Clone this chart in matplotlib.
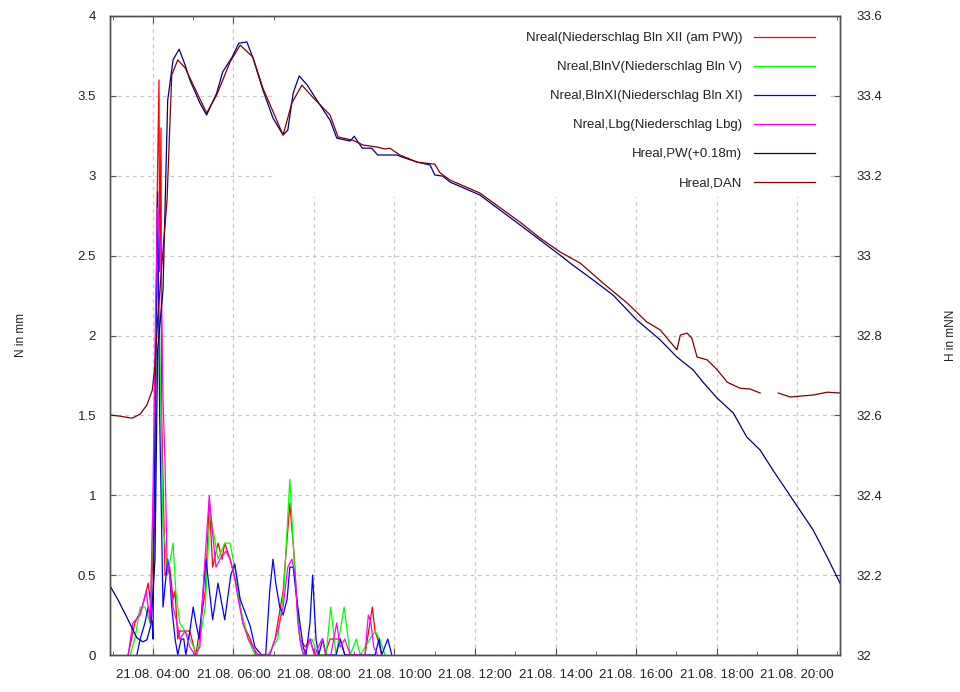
import numpy as np
import pandas as pd
import matplotlib
matplotlib.use("Agg")
import matplotlib.pyplot as plt
import matplotlib.dates as mdates
from matplotlib.patches import Rectangle
from matplotlib.ticker import MultipleLocator, FormatStrFormatter

plt.rcParams['font.family'] = ['Liberation Sans', 'DejaVu Sans']

DAY = "2011-08-21 "

# precipitation (mm), one list of times per gauge
n_xii_t = ["03:23", "03:33", "03:44", "03:53", "03:57", "04:03", "04:06", "04:09", "04:10", "04:12",
           "04:13", "04:18", "04:25", "04:30", "04:33", "04:37", "04:40", "04:55", "05:04", "05:18",
           "05:24", "05:29", "05:37", "05:43", "05:47", "05:55", "06:07", "06:14", "06:25", "06:34",
           "06:54", "07:02", "07:14", "07:24", "07:30", "07:35", "07:39", "07:47", "07:54", "08:01",
           "08:16", "08:24", "08:39", "08:46", "09:16", "09:27", "09:31", "09:35", "09:41"]
n_xii = [0.0, 0.2, 0.3, 0.45, 0.3, 1.0, 2.8, 3.6, 2.4, 3.3,
         1.5, 0.5, 0.55, 0.35, 0.4, 0.1, 0.15, 0.15, 0.0, 0.4,
         0.95, 0.55, 0.7, 0.6, 0.7, 0.6, 0.4, 0.2, 0.1, 0.0,
         0.0, 0.1, 0.4, 0.95, 0.65, 0.3, 0.1, 0.05, 0.1, 0.0,
         0.0, 0.1, 0.1, 0.0, 0.0, 0.3, 0.15, 0.1, 0.0]

n_v_t = ["03:26", "03:33", "03:41", "03:48", "03:56", "04:03", "04:07", "04:10", "04:15", "04:18",
         "04:22", "04:30", "04:34", "04:40", "04:48", "04:55", "05:06", "05:18", "05:25", "05:31",
         "05:37", "05:47", "05:55", "06:04", "06:10", "06:22", "06:32", "06:51", "07:06", "07:15",
         "07:24", "07:29", "07:33", "07:39", "07:44", "07:57", "08:06", "08:18", "08:25", "08:33",
         "08:45", "08:54", "09:03", "09:09", "09:31", "09:38", "09:46"]
n_v = [0.0, 0.1, 0.3, 0.3, 0.2, 1.4, 2.4, 2.0, 0.8, 0.7,
       0.5, 0.7, 0.4, 0.2, 0.15, 0.1, 0.0, 0.3, 0.9, 0.75,
       0.6, 0.7, 0.7, 0.5, 0.3, 0.1, 0.0, 0.0, 0.1, 0.4,
       1.1, 0.7, 0.4, 0.1, 0.0, 0.1, 0.0, 0.0, 0.3, 0.0,
       0.3, 0.0, 0.1, 0.0, 0.15, 0.1, 0.0]

n_xi_t = ["03:36", "03:41", "03:48", "03:53", "03:59", "04:00", "04:04", "04:07", "04:10", "04:15",
          "04:22", "04:25", "04:28", "04:33", "04:37", "04:42", "04:46", "04:49", "04:55", "05:00",
          "05:04", "05:09", "05:13", "05:19", "05:29", "05:37", "05:47", "05:56", "06:02", "06:10",
          "06:25", "06:32", "06:42", "06:48", "06:54", "06:59", "07:03", "07:09", "07:14", "07:20",
          "07:24", "07:29", "07:33", "07:39", "07:44", "07:48", "07:54", "07:58", "08:03", "08:07",
          "08:13", "08:18", "08:33", "08:39", "08:46", "09:31", "09:37", "09:41", "09:50", "09:56"]
n_xi = [0.0, 0.1, 0.2, 0.3, 0.2, 0.1, 1.8, 2.9, 1.5, 0.3,
        0.6, 0.5, 0.3, 0.1, 0.0, 0.1, 0.1, 0.0, 0.15, 0.3,
        0.2, 0.1, 0.3, 0.6, 0.22, 0.45, 0.22, 0.5, 0.57, 0.35,
        0.18, 0.05, 0.0, 0.0, 0.4, 0.6, 0.45, 0.3, 0.25, 0.35,
        0.55, 0.55, 0.4, 0.2, 0.05, 0.0, 0.2, 0.5, 0.1, 0.0,
        0.1, 0.0, 0.0, 0.1, 0.0, 0.0, 0.1, 0.0, 0.1, 0.0]

n_lbg_t = ["03:23", "03:30", "03:41", "03:50", "03:56", "04:00", "04:04", "04:07", "04:12", "04:15",
           "04:18", "04:21", "04:25", "04:30", "04:36", "04:40", "04:48", "04:55", "05:03", "05:10",
           "05:16", "05:24", "05:28", "05:34", "05:40", "05:49", "05:55", "06:01", "06:07", "06:14",
           "06:22", "06:29", "06:37", "06:54", "07:06", "07:14", "07:21", "07:27", "07:32", "07:36",
           "07:41", "07:45", "07:54", "08:01", "08:12", "08:18", "08:25", "08:34", "08:39", "08:46",
           "08:54", "09:16", "09:21", "09:25", "09:29", "09:35"]
n_lbg = [0.0, 0.2, 0.25, 0.4, 0.2, 1.0, 2.2, 2.8, 2.5, 1.6,
         1.2, 0.6, 0.5, 0.3, 0.2, 0.1, 0.15, 0.05, 0.0, 0.05,
         0.5, 1.0, 0.8, 0.55, 0.6, 0.65, 0.6, 0.5, 0.35, 0.2,
         0.1, 0.05, 0.0, 0.0, 0.15, 0.3, 0.55, 0.6, 0.5, 0.2,
         0.05, 0.0, 0.1, 0.0, 0.1, 0.0, 0.0, 0.2, 0.05, 0.1,
         0.0, 0.0, 0.25, 0.2, 0.05, 0.0]

# water levels (m above NN)
h_pw_t = ["02:56", "03:08", "03:23", "03:36", "03:45", "03:51", "03:57", "04:03", "04:07", "04:15",
          "04:22", "04:30", "04:39", "04:48", "04:55", "05:10", "05:20", "05:35", "05:44", "05:58",
          "06:08", "06:20", "06:29", "06:44", "06:59", "07:14", "07:21", "07:29", "07:38", "07:50",
          "08:04", "08:24", "08:34", "08:54", "09:00", "09:12", "09:26", "09:35", "10:04", "10:11",
          "10:34", "10:53", "11:00", "11:12", "11:23", "12:07", "13:07", "13:37", "14:07", "14:22",
          "14:56", "15:26", "16:01", "16:36", "17:01", "17:25", "17:40", "18:01", "18:25", "18:45",
          "19:05", "19:24", "19:54", "20:24", "20:45", "21:04"]
h_pw = [32.173, 32.138, 32.088, 32.043, 32.033, 32.038, 32.075, 32.238, 32.764, 32.914,
        33.389, 33.490, 33.517, 33.477, 33.440, 33.382, 33.352, 33.407, 33.460, 33.497,
        33.532, 33.535, 33.495, 33.414, 33.344, 33.302, 33.314, 33.407, 33.450, 33.427,
        33.390, 33.339, 33.294, 33.287, 33.299, 33.269, 33.269, 33.252, 33.252, 33.247,
        33.234, 33.227, 33.202, 33.199, 33.184, 33.152, 33.077, 33.039, 33.001, 32.981,
        32.939, 32.901, 32.839, 32.789, 32.746, 32.714, 32.683, 32.643, 32.606, 32.546,
        32.513, 32.463, 32.388, 32.313, 32.245, 32.180]

h_dan_t = ["02:56", "03:11", "03:29", "03:41", "03:51", "03:59", "04:03", "04:07", "04:15", "04:21",
           "04:28", "04:37", "04:48", "05:20", "05:35", "05:55", "06:10", "06:29", "06:44", "07:14",
           "07:27", "07:42", "07:58", "08:24", "08:36", "08:58", "09:13", "09:34", "09:46", "09:53",
           "10:08", "10:34", "11:00", "11:08", "11:23", "12:07", "13:07", "13:37", "14:07", "14:37",
           "15:11", "15:47", "16:16", "16:36", "17:01", "17:06", "17:16", "17:23", "17:31", "17:46",
           "18:01", "18:16", "18:35", "18:50", "19:05", "19:15", "19:32", "19:50", "20:24", "20:45",
           "21:04"]
h_dan = [32.601, 32.598, 32.593, 32.603, 32.626, 32.663, 32.726, 32.839, 33.014, 33.139,
         33.452, 33.490, 33.470, 33.357, 33.402, 33.485, 33.527, 33.497, 33.419, 33.302,
         33.382, 33.427, 33.397, 33.352, 33.297, 33.289, 33.277, 33.272, 33.267, 33.269,
         33.252, 33.234, 33.229, 33.207, 33.189, 33.157, 33.084, 33.044, 33.009, 32.981,
         32.931, 32.881, 32.834, 32.814, 32.764, 32.801, 32.806, 32.794, 32.746, 32.739,
         32.714, 32.683, 32.668, 32.666, 32.656, np.nan, 32.656, 32.646, 32.651, 32.658,
         32.656]


def to_time(lst):
    return pd.to_datetime([DAY + t for t in lst])


fig = plt.figure(figsize=(9.6, 6.92), dpi=100)
ax = fig.add_axes([110 / 960, 1 - 655 / 692, 730 / 960, 639 / 692])
ax2 = ax.twinx()

lw = 0.9
l1, = ax.plot(to_time(n_xii_t), n_xii, color='#ff0000', lw=lw,
              label='Nreal(Niederschlag Bln XII (am PW))')
l2, = ax.plot(to_time(n_v_t), n_v, color='#00ff00', lw=lw,
              label='Nreal,BlnV(Niederschlag Bln V)')
l3, = ax.plot(to_time(n_xi_t), n_xi, color='#0000ff', lw=lw,
              label='Nreal,BlnXI(Niederschlag Bln XI)')
l4, = ax.plot(to_time(n_lbg_t), n_lbg, color='#ff00ff', lw=lw,
              label='Nreal,Lbg(Niederschlag Lbg)')
l5, = ax2.plot(to_time(h_pw_t), h_pw, color='#000080', lw=lw,
               label='Hreal,PW(+0.18m)')
l6, = ax2.plot(to_time(h_dan_t), h_dan, color='#800000', lw=lw,
               label='Hreal,DAN')

ax.set_xlim(pd.Timestamp(DAY + "02:56"), pd.Timestamp(DAY + "21:04"))
ax.set_ylim(0, 4)
ax2.set_ylim(32, 33.6)

ax.yaxis.set_major_locator(MultipleLocator(0.5))
ax.yaxis.set_major_formatter(FormatStrFormatter('%g'))
ax2.yaxis.set_major_locator(MultipleLocator(0.2))
ax2.yaxis.set_major_formatter(FormatStrFormatter('%g'))

ax.xaxis.set_major_locator(mdates.HourLocator(byhour=range(0, 24, 2)))
ax.xaxis.set_minor_locator(mdates.HourLocator())
ax.xaxis.set_major_formatter(mdates.DateFormatter('%d.%m. %H:%M'))

txt = '#222222'
spine = '#505050'
for a in (ax, ax2):
    for s in a.spines.values():
        s.set_color(spine)
        s.set_linewidth(1.0)
ax.tick_params(axis='x', which='both', direction='in', top=True, colors=spine,
               labelcolor=txt, labelsize=9.5, pad=10)
ax.tick_params(axis='x', which='major', length=5)
ax.tick_params(axis='x', which='minor', length=3)
ax.tick_params(axis='y', direction='in', length=4, colors=spine,
               labelcolor=txt, labelsize=9.5, pad=10)
ax2.tick_params(axis='y', direction='in', length=4, colors=spine,
                labelcolor=txt, labelsize=9.5, pad=12)

ax.set_axisbelow(True)
ax.grid(True, which='major', color='#c8c8c8', linestyle=(0, (3, 3)), linewidth=0.9)

# white backing behind the legend that hides the grid there
ax.add_patch(Rectangle((0.226, 0.717), 0.758, 0.283, transform=ax.transAxes,
                       facecolor='white', edgecolor='none', zorder=1))

leg = ax2.legend(handles=[l1, l2, l3, l4, l5, l6], loc='upper right',
                 bbox_to_anchor=(815 / 960, 1 - 32 / 692), bbox_transform=fig.transFigure,
                 frameon=False, markerfirst=False, fontsize=9.5, handlelength=4.6,
                 handletextpad=0.9, labelspacing=1.27, borderpad=0, borderaxespad=0)
for t in leg.get_texts():
    t.set_color(txt)

fig.text(21 / 960, 1 - 335 / 692, 'N in mm', rotation=90, ha='center', va='center',
         fontsize=8.5, color=txt)
fig.text(951 / 960, 1 - 335 / 692, 'H in mNN', rotation=90, ha='center', va='center',
         fontsize=8.5, color=txt)

fig.savefig('out.png', dpi=100, facecolor='white')
